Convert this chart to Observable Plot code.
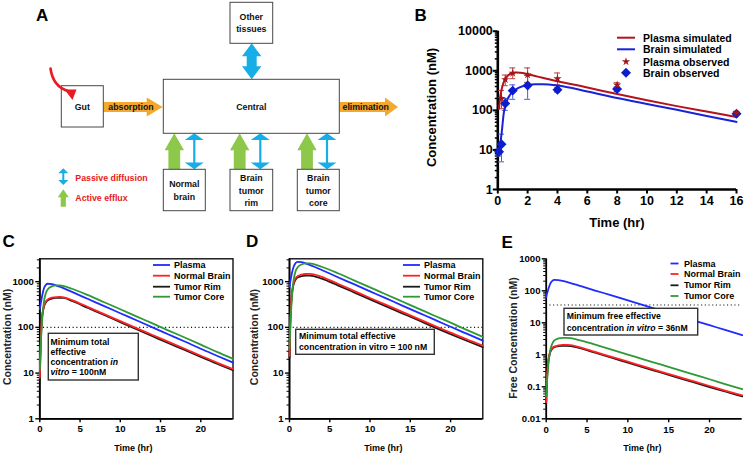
<!DOCTYPE html>
<html><head><meta charset="utf-8">
<script src="https://cdn.jsdelivr.net/npm/d3@7"></script>
<script src="https://cdn.jsdelivr.net/npm/@observablehq/plot@0.6"></script>
<style>
body{margin:0;background:#fff;}
#root{position:relative;width:745px;height:458px;overflow:hidden;background:#fff;}
.pl{position:absolute;}
#over{position:absolute;left:0;top:0;pointer-events:none;}
</style></head>
<body><div id="root"></div>
<script>
// ---------- Panel B data ----------
const bTime = [0.083,0.15,0.25,0.4,0.6,0.8,1,1.25,1.5,2,2.5,3,4,6,8,10,12,14,16];
const bPlasmaSim = [110,200,330,520,700,820,880,900,890,820,740,665,545,378,258,180,128,93,68];
const bBrainSim = [8,13,25,85,170,240,290,345,385,435,455,455,425,300,205,145,103,72,51];
const bPlasmaObsT = [0.25,0.5,1,2,4,8,16];
const bPlasmaObs = [200,600,870,790,630,440,85];
const bPlasmaLo = [110,420,630,510,440,380,75];
const bPlasmaHi = [320,780,1180,1180,880,500,95];
const bBrainObsT = [0.083,0.25,0.5,1,2,4,8,16];
const bBrainObs = [9,14,150,315,425,330,345,82];
const bBrainLo = [7,5,100,190,190,290,300,75];
const bBrainHi = [11,25,200,440,760,370,390,90];
const xTicksB = [0,2,4,6,8,10,12,14,16];
const yTicksB = [1,10,100,1000,10000];
const bLegend = ["Plasma simulated","Brain simulated","Plasma observed","Brain observed"];

// ---------- Panels C, D, E data ----------
const timeSim = [0,0.1,0.25,0.5,0.75,1,1.5,2,2.5,3,4,6,8,10,12,14,16,18,20,22,24];
const compartments = ["Plasma","Normal Brain","Tumor Rim","Tumor Core"];
const compColors = ["#1f2bff","#ff2222","#1a1a1a","#2f9a35"];
const cPlasma = [250,320,450,700,850,900,885,830,775,715,596,417,292,204,143,100,70,49,34,24,17];
const cNormal = [8,40,150,290,370,410,445,460,463,455,395,278,195,137,96,68,48,34,24,17,12.3];
const cRim    = [7,35,140,275,350,390,425,440,445,440,378,265,186,130,91,64,45,32,22.5,16,11.6];
const cCore   = [12,35,110,350,560,680,790,830,830,800,700,506,355,249,174,122,85,60,42,29,20.5];
const dPlasma = [780,1000,1400,2100,2550,2720,2680,2500,2330,2150,1800,1250,880,615,430,300,210,148,103,73,51];
const dNormal = [24,130,470,930,1180,1310,1420,1470,1475,1450,1270,900,630,440,310,218,154,108,77,55,40];
const dRim    = [22,115,420,850,1100,1230,1320,1350,1350,1320,1160,830,585,410,288,203,143,100,71,51,37];
const dCore   = [35,110,330,1050,1680,2050,2380,2500,2500,2420,2120,1530,1070,750,525,368,258,180,127,88,62];
const ePlasma = [62,82,110,168,205,218,215,203,190,175,146,102,72,50,35,24.5,17.2,12,8.4,5.9,4.1];
const eNormal = [0.033,0.18,0.66,1.28,1.64,1.82,1.97,2.04,2.05,2.0,1.75,1.23,0.86,0.61,0.425,0.3,0.213,0.15,0.106,0.075,0.054];
const eRim    = [0.03,0.16,0.6,1.2,1.55,1.73,1.86,1.92,1.92,1.87,1.64,1.16,0.81,0.57,0.4,0.28,0.198,0.14,0.098,0.07,0.05];
const eCore   = [0.05,0.15,0.45,1.4,2.25,2.8,3.25,3.4,3.4,3.3,2.9,2.08,1.46,1.02,0.71,0.5,0.35,0.245,0.172,0.12,0.084];
const xTicksCDE = [0,5,10,15,20];
const yTicksCD = [1,10,100,1000];
const yTicksE = [0.01,0.1,1,10,100,1000];
const thresholdCD = 100;
const thresholdE = 36;

const FONT = '"Liberation Sans", Arial, sans-serif';
const root = document.getElementById("root");

function minorTicks(domain){
  return d3.scaleLog().domain(domain).ticks().filter(v => Math.abs(Math.log10(v) - Math.round(Math.log10(v))) > 1e-6);
}
function place(svg, left, top){
  const d = document.createElement("div");
  d.className = "pl"; d.style.left = left + "px"; d.style.top = top + "px";
  d.appendChild(svg); root.appendChild(d);
}

// ---------- Panel B ----------
{
  const sim = [];
  bTime.forEach((t,i) => { sim.push({t, v: bPlasmaSim[i], s: bLegend[0]}); });
  bTime.forEach((t,i) => { sim.push({t, v: bBrainSim[i], s: bLegend[1]}); });
  const pObs = bPlasmaObsT.map((t,i) => ({t, v: bPlasmaObs[i], lo: bPlasmaLo[i], hi: bPlasmaHi[i]}));
  const bObs = bBrainObsT.map((t,i) => ({t, v: bBrainObs[i], lo: bBrainLo[i], hi: bBrainHi[i]}));
  const cap = 0.2;
  const yDom = [1, 10000];
  const svg = Plot.plot({
    width: 365, height: 235,
    marginLeft: 117.3, marginRight: 9, marginTop: 30.7, marginBottom: 46,
    x: {domain: [0,16], label: null},
    y: {type: "log", domain: yDom, label: null},
    color: {domain: bLegend.slice(0,2), range: ["#b3141c","#1a22d8"]},
    style: {fontFamily: FONT, fontSize: "12.5px", fontWeight: "bold", color: "#000", background: "transparent", overflow: "visible"},
    marks: [
      Plot.axisY({ticks: minorTicks(yDom), tickSize: 2.5, tickFormat: () => "", label: null, strokeWidth: 1.5}),
      Plot.axisY({ticks: yTicksB, tickSize: 4.5, tickPadding: 0.5, tickFormat: d => String(d), label: null, strokeWidth: 2}),
      Plot.axisX({ticks: xTicksB, tickSize: 4.5, tickPadding: 2, tickFormat: d => String(d), label: null, strokeWidth: 2}),
      Plot.ruleX([0], {strokeWidth: 2.6}),
      Plot.ruleY([1], {strokeWidth: 2.6}),
      Plot.ruleX(pObs, {x: "t", y1: "lo", y2: "hi", stroke: "#bf3a3a", strokeWidth: 1}),
      Plot.ruleY(pObs, {y: "lo", x1: d => d.t - cap, x2: d => d.t + cap, stroke: "#bf3a3a", strokeWidth: 1}),
      Plot.ruleY(pObs, {y: "hi", x1: d => d.t - cap, x2: d => d.t + cap, stroke: "#bf3a3a", strokeWidth: 1}),
      Plot.ruleX(bObs, {x: "t", y1: "lo", y2: "hi", stroke: "#4d5bd6", strokeWidth: 1}),
      Plot.ruleY(bObs, {y: "lo", x1: d => d.t - cap, x2: d => d.t + cap, stroke: "#4d5bd6", strokeWidth: 1}),
      Plot.ruleY(bObs, {y: "hi", x1: d => d.t - cap, x2: d => d.t + cap, stroke: "#4d5bd6", strokeWidth: 1}),
      Plot.line(sim, {x: "t", y: "v", stroke: "s", curve: "monotone-x", strokeWidth: 2}),
      Plot.dot(bObs, {x: "t", y: "v", symbol: "diamond2", r: 4.5, fill: "#0a1ed0", stroke: "none"}),
      Plot.dot(pObs, {x: "t", y: "v", symbol: "star", r: 2.6, fill: "#a3161c", stroke: "none"})
    ]
  });
  place(svg, 380, 0);
}

// ---------- Panels C, D, E ----------
function timeCourse(cfg){
  const order = [2,1,0,3]; // draw rim, normal, plasma, core
  const series = cfg.series;
  const tidy = [];
  order.forEach(k => timeSim.forEach((t,i) => tidy.push({t, v: series[k][i], s: compartments[k]})));
  const marks = [];
  if (cfg.frame) marks.push(Plot.frame({stroke: "#111", strokeWidth: 1.4}));
  marks.push(
    Plot.axisY({ticks: minorTicks(cfg.yDomain), tickSize: 2.5, tickFormat: () => "", label: null, strokeWidth: 1}),
    Plot.axisY({ticks: cfg.yTicks, tickSize: 4, tickPadding: cfg.yPad, tickFormat: d => String(d), label: null, strokeWidth: 1.4}),
    Plot.axisX({ticks: xTicksCDE, tickSize: 4, tickPadding: cfg.xPad, tickFormat: d => String(d), label: null, strokeWidth: 1.4}),
    Plot.ruleX([0], {strokeWidth: 1.8}),
    Plot.ruleY([cfg.yDomain[0]], {strokeWidth: 1.8}),
    Plot.ruleY([cfg.threshold], {stroke: "#111", strokeWidth: 1.1, strokeDasharray: "1.1,2.6"}),
    Plot.line(tidy, {x: "t", y: "v", stroke: "s", z: "s", curve: "monotone-x", strokeWidth: 1.8})
  );
  const svg = Plot.plot({
    width: cfg.width, height: 208,
    marginLeft: cfg.ml, marginRight: cfg.mr, marginTop: 8.3, marginBottom: 39.7,
    x: {domain: [0,24], label: null},
    y: {type: "log", domain: cfg.yDomain, label: null},
    color: {domain: compartments, range: compColors},
    style: {fontFamily: FONT, fontSize: "9.6px", fontWeight: "bold", color: "#000", background: "transparent", overflow: "visible"},
    marks
  });
  place(svg, cfg.left, 250);
}
timeCourse({left: 0, width: 245, ml: 39.3, mr: 12.5, yDomain: [1, 3162], yTicks: yTicksCD, series: [cPlasma,cNormal,cRim,cCore], threshold: thresholdCD, frame: true, yPad: 2, xPad: 2});
timeCourse({left: 250, width: 245, ml: 39, mr: 12.7, yDomain: [1, 3162], yTicks: yTicksCD, series: [dPlasma,dNormal,dRim,dCore], threshold: thresholdCD, frame: true, yPad: 2, xPad: 2});
timeCourse({left: 495, width: 250, ml: 50.7, mr: 3.3, yDomain: [0.01, 1000], yTicks: yTicksE, series: [ePlasma,eNormal,eRim,eCore], threshold: thresholdE, frame: false, yPad: 1.7, xPad: 3.5});

// ---------- Overlay: diagram A, letters, titles, legends, notes ----------
const over = d3.select(root).append("svg").attr("id","over").attr("width",745).attr("height",458);
function txt(x, y, s, o = {}){
  const t = over.append("text").attr("x", x).attr("y", y)
    .attr("font-family", o.family || FONT).attr("font-size", o.size || 9)
    .attr("font-weight", o.weight || "bold").attr("fill", o.fill || "#000")
    .attr("text-anchor", o.anchor || "start").attr("dominant-baseline", o.base || "central");
  if (o.rotate) t.attr("transform", `rotate(-90 ${x} ${y})`);
  if (Array.isArray(s)) s.forEach(([str, it]) => t.append("tspan").attr("font-style", it ? "italic" : "normal").text(str));
  else t.text(s);
  return t;
}

// Panel A
const BLUE = "#17aee8", GREEN = "#8dc84b", ORANGE = "#f4a82e", RED = "#e81a22";
function box(x, y, w, h){ over.append("rect").attr("x",x).attr("y",y).attr("width",w).attr("height",h).attr("fill","#fff").attr("stroke","#474747").attr("stroke-width",1); }
function poly(pts, fill){ over.append("polygon").attr("points", pts.map(p => p.join(",")).join(" ")).attr("fill", fill); }
function hArrow(x0, x1, hb, yc, hw, bw, fill){ poly([[x0,yc-bw],[hb,yc-bw],[hb,yc-hw],[x1,yc],[hb,yc+hw],[hb,yc+bw],[x0,yc+bw]], fill); }
function vDouble(xc, y0, y1, hh, hw, bw, fill){ poly([[xc,y0],[xc+hw,y0+hh],[xc+bw,y0+hh],[xc+bw,y1-hh],[xc+hw,y1-hh],[xc,y1],[xc-hw,y1-hh],[xc-bw,y1-hh],[xc-bw,y0+hh],[xc-hw,y0+hh]], fill); }
function vUp(xc, y0, y1, hh, hw, bw, fill){ poly([[xc,y0],[xc+hw,y0+hh],[xc+bw,y0+hh],[xc+bw,y1],[xc-bw,y1],[xc-bw,y0+hh],[xc-hw,y0+hh]], fill); }

hArrow(103.3, 162.7, 146.7, 107, 9.5, 5, ORANGE);
hArrow(339.3, 398, 385, 107, 9.5, 5, ORANGE);
vDouble(251.7, 43.3, 79.3, 13, 9.7, 5, BLUE);
[[174.3,194.3],[239.7,260.3],[307,327]].forEach(([g,b]) => {
  vUp(g, 133.3, 169.3, 17, 9.7, 5.9, GREEN);
  vDouble(b, 133.3, 169.3, 6.7, 9.5, 1.1, BLUE);
});
box(61.3, 85.7, 42, 41.3);
box(163.3, 79.3, 176, 54);
box(230, 2.3, 42.7, 41);
box(163.3, 169.3, 42, 41.4);
box(230, 169.3, 42.7, 41.4);
box(297.3, 169.3, 42, 41.4);
const DS = 8.8;
const dOpt = {size: DS, anchor: "middle", fill: "#111"};
txt(251.3, 16.7, "Other", dOpt); txt(251.3, 29, "tissues", dOpt);
txt(82.3, 107, "Gut", dOpt);
txt(251.3, 107, "Central", dOpt);
txt(131, 107, "absorption", dOpt);
txt(342.5, 107, "elimination", {size: DS, fill: "#111"});
txt(184.3, 184.3, "Normal", dOpt); txt(184.3, 196.7, "brain", dOpt);
txt(251.3, 178, "Brain", dOpt); txt(251.3, 190.7, "tumor", dOpt); txt(251.3, 203, "rim", dOpt);
txt(318.3, 178, "Brain", dOpt); txt(318.3, 190.7, "tumor", dOpt); txt(318.3, 203, "core", dOpt);
vDouble(63.3, 168.3, 185, 5, 5, 1, BLUE);
vUp(63.3, 189.3, 206.7, 8, 5.5, 2.6, GREEN);
txt(75.3, 178, "Passive diffusion", {size: DS, fill: RED});
txt(75.3, 197.7, "Active efflux", {size: DS, fill: RED});
over.append("path").attr("d","M50.5,68.5 C52,80 57,88 69,91.5").attr("fill","none").attr("stroke",RED).attr("stroke-width",2.6).attr("stroke-linecap","round");
poly([[64.5,89.5],[76.5,89.5],[72.5,100]], RED);

// Panel letters
const L = {size: 17, base: "auto"};
txt(36, 20.7, "A", L); txt(414.5, 20.7, "B", L); txt(2.5, 247.3, "C", L); txt(246, 247.3, "D", L); txt(501.5, 248, "E", L);

// Axis titles
txt(431.7, 107.5, "Concentration (nM)", {size: 13, anchor: "middle", rotate: true});
txt(617, 222.7, "Time (hr)", {size: 13, anchor: "middle"});
txt(7.3, 337, "Concentration (nM)", {size: 10.5, anchor: "middle", rotate: true, fill: "#222"});
txt(254, 337, "Concentration (nM)", {size: 10.5, anchor: "middle", rotate: true, fill: "#222"});
txt(513.3, 338, "Free Concentration (nM)", {size: 10.5, anchor: "middle", rotate: true, fill: "#222"});
txt(133.3, 448, "Time (hr)", {size: 9, anchor: "middle"});
txt(383.3, 448, "Time (hr)", {size: 9, anchor: "middle"});
txt(642.3, 448, "Time (hr)", {size: 9, anchor: "middle"});

// Legend B
const bY = [37.7, 49.3, 61.7, 72.7];
over.append("line").attr("x1",617).attr("x2",635).attr("y1",bY[0]).attr("y2",bY[0]).attr("stroke","#b3141c").attr("stroke-width",2);
over.append("line").attr("x1",617).attr("x2",635).attr("y1",bY[1]).attr("y2",bY[1]).attr("stroke","#1a22d8").attr("stroke-width",2);
over.append("path").attr("d", d3.symbol(d3.symbolStar, Math.PI*2.6*2.6)()).attr("transform",`translate(626,${bY[2]})`).attr("fill","#a3161c");
over.append("path").attr("d", d3.symbol(d3.symbolDiamond2, Math.PI*4.5*4.5)()).attr("transform",`translate(626,${bY[3]})`).attr("fill","#0a1ed0");
bLegend.forEach((s,i) => txt(643, bY[i], s, {size: 10.5}));

// Legends C, D, E
function legend(x0, x1, tx, ys){
  compartments.forEach((s,i) => {
    over.append("line").attr("x1",x0).attr("x2",x1).attr("y1",ys[i]).attr("y2",ys[i]).attr("stroke",compColors[i]).attr("stroke-width",1.8);
    txt(tx, ys[i], s, {size: 9});
  });
}
legend(153, 170, 174, [265, 275.7, 286.7, 296.7]);
legend(403, 420, 424, [265, 275.7, 286.7, 296.7]);
legend(670.5, 678.5, 684, [263.5, 274, 285.3, 296]);

// Notes
function note(x, y, w, h, lines, lh, tx, ty){
  over.append("rect").attr("x",x).attr("y",y).attr("width",w).attr("height",h).attr("fill","#fff").attr("stroke","#333").attr("stroke-width",1.4);
  lines.forEach((ln,i) => txt(tx, ty + i*lh, ln, {size: 8.7}));
}
note(48.3, 333.3, 90, 46.7, [[["Minimum total"]],[["effective"]],[["concentration "],["in",1]],[["vitro",1],[" = 100nM"]]], 10, 50.5, 341.7);
note(295.7, 329.3, 138.6, 25, [[["Minimum total effective"]],[["concentration in vitro = 100 nM"]]], 11.7, 299, 335.5);
note(564, 308.3, 133.7, 26.7, [[["Minimum free effective"]],[["concentration "],["in vitro",1],[" = 36nM"]]], 12, 566.7, 315.7);
</script></body></html>
